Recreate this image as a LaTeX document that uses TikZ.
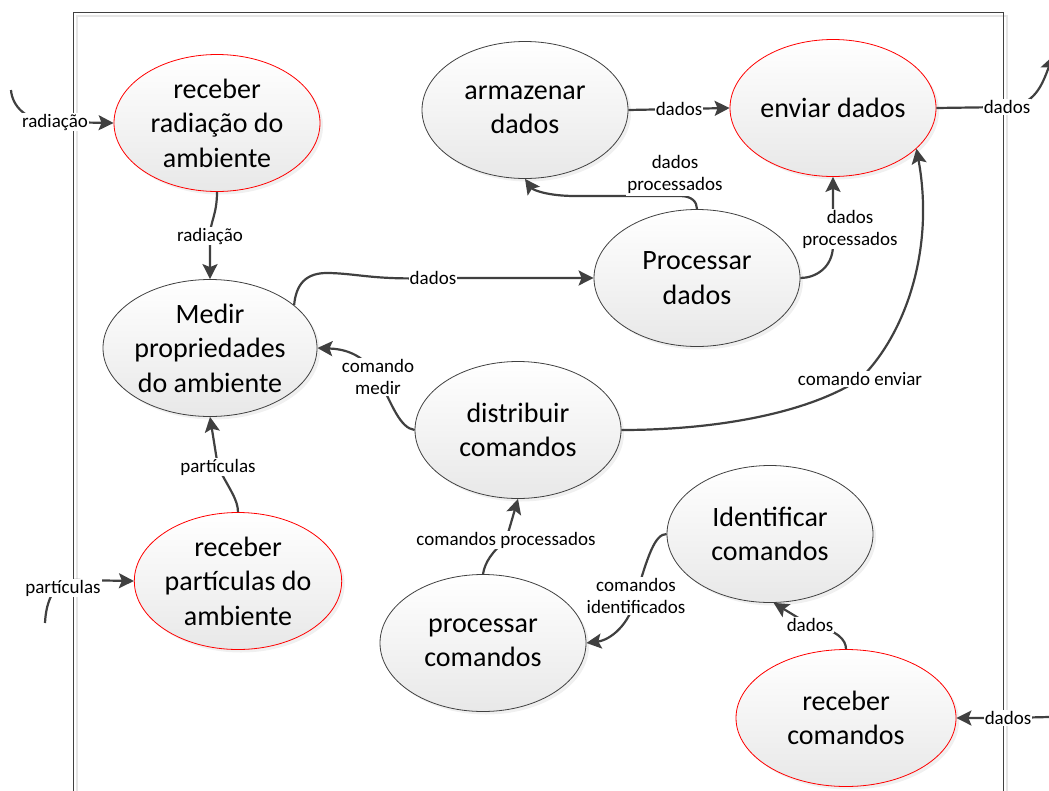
\documentclass[tikz,border=0pt]{standalone}
\usepackage{fontspec}
\setmainfont{Carlito}
\usetikzlibrary{arrows.meta, shapes.geometric, shadows}
\definecolor{linegray}{HTML}{404040}
\tikzset{proc/.style={ellipse,draw=linegray,line width=0.8pt,minimum width=206pt,minimum height=137pt,inner sep=0pt,align=center,top color=white,bottom color=black!9,font=\fontsize{28}{34.5}\selectfont,drop shadow={shadow xshift=3pt,shadow yshift=-3pt,opacity=0.12}},ext/.style={proc,draw=red},flow/.style={draw=linegray,line width=2.2pt,-{Stealth[length=15pt,width=15pt,inset=3pt]}},lbl/.style={fill=white,inner sep=1pt,align=center,font=\fontsize{19}{22}\selectfont}}

\begin{document}
\begin{tikzpicture}[x=1pt,y=-1pt]
\useasboundingbox (0,0) rectangle (1049,790);
\draw[black!10,line width=1.5pt] (77,16) rectangle (1007,830);
\draw[linegray,line width=0.8pt] (73,12) rectangle (1003,830);
\node[ext] (recRad) at (217,123) {receber\\radiação do\\ambiente};
\node[proc] (arm) at (525,110) {armazenar\\dados};
\node[ext] (env) at (833,108) {enviar dados};
\node[proc] (pro) at (697,278) {Processar\\dados};
\node[proc] (med) at (210,348) {Medir\\propriedades\\do ambiente};
\node[proc] (dist) at (518,430) {distribuir\\comandos};
\node[ext] (recPart) at (238,581) {receber\\partículas do\\ambiente};
\node[proc] (ident) at (770,534) {Identificar\\comandos};
\node[proc] (procCmd) at (483,643) {processar\\comandos};
\node[ext,minimum width=220pt] (recCmd) at (846,718) {receber\\comandos};
\coordinate (radIn) at (11,90);
\coordinate (partIn) at (45,623);
\coordinate (envOut) at (1053,56);
\coordinate (cmdIn) at (1049,717);
\draw[flow] (radIn) .. controls (12,105) and (25,122) .. (55,122) node[lbl]{radiação} -- (recRad.west);
\draw[flow] (recRad.south) .. controls (217,215) and (210,222) .. (210,236) node[lbl]{radiação} -- (med.north);
\draw[flow] (med.27) .. controls (296,285) and (305,272) .. (330,273) .. controls (360,274) and (375,280) .. (433,278) node[lbl]{dados} -- (pro.west);
\draw[flow] (pro.north) .. controls (697,202) and (692,196) .. (680,196) -- (575,196) .. controls (548,196) and (533,190) .. (arm.south) node[lbl,inner ysep=3pt] at (675,174) {dados\\processados};
\draw[flow] (pro.east) .. controls (815,278) and (833,268) .. (833,245) -- (env.south) node[lbl] at (850,229) {dados\\processados};
\draw[flow] (arm.east) -- node[lbl]{dados} (env.west);
\draw[flow] (env.east) -- (1007,107) node[lbl]{dados} .. controls (1035,105) and (1042,85) .. (envOut);
\draw[flow] (dist.west) .. controls (400,428) and (392,405) .. (378,377) node[lbl]{comando\\medir} .. controls (362,352) and (342,349) .. (med.east);
\draw[flow] (dist.east) .. controls (720,430) and (810,412) .. (860,379) node[lbl]{comando enviar} .. controls (905,335) and (935,250) .. (env.-26);
\draw[flow] (recPart.north) .. controls (238,500) and (230,490) .. (218,467) node[lbl]{partículas} -- (med.south);
\draw[flow] (partIn) .. controls (46,600) and (55,580) .. (75,580) -- (recPart.west) node[lbl] at (63,588) {partículas};
\draw[flow] (procCmd.north) .. controls (485,562) and (492,552) .. (506,540) node[lbl]{comandos processados} -- (dist.south);
\draw[flow] (ident.west) .. controls (655,534) and (648,555) .. (636,596) node[lbl]{comandos\\identificados} .. controls (630,625) and (610,640) .. (procCmd.east);
\draw[flow] (recCmd.north) .. controls (846,640) and (838,630) .. (810,625) node[lbl]{dados} -- (ident.-87);
\draw[flow] (cmdIn) -- (1008,718) node[lbl]{dados} -- (recCmd.east);
\end{tikzpicture}
\end{document}
